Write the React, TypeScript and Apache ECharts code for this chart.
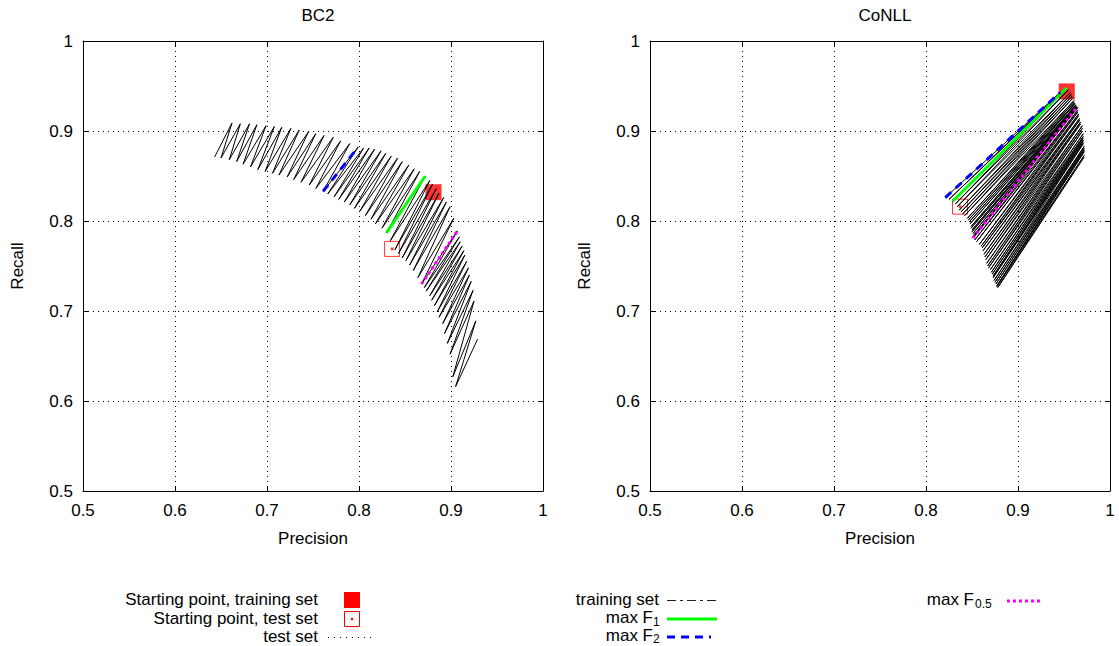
import React, { useEffect, useRef } from "react";
import * as echarts from "echarts";

// ---------- Data (precision, recall) ----------
const panelTitles = ["BC2", "CoNLL"];

// BC2: test-set points (lower-left ends) and training-set points (upper-right ends)
const bc2Test: number[][] = [
  [0.643, 0.871], [0.650, 0.870], [0.659, 0.868], [0.667, 0.866], [0.674, 0.863],
  [0.682, 0.860], [0.690, 0.857], [0.698, 0.855], [0.706, 0.853], [0.713, 0.851],
  [0.722, 0.849], [0.729, 0.846], [0.737, 0.843], [0.746, 0.840], [0.753, 0.836],
  [0.761, 0.833], [0.766, 0.830], [0.773, 0.827], [0.778, 0.824], [0.784, 0.821],
  [0.790, 0.818], [0.795, 0.814], [0.801, 0.811], [0.807, 0.806], [0.813, 0.802],
  [0.818, 0.797], [0.825, 0.792], [0.830, 0.787], [0.834, 0.778], [0.839, 0.768],
  [0.843, 0.764], [0.847, 0.759], [0.851, 0.756], [0.855, 0.751], [0.859, 0.745],
  [0.864, 0.737], [0.868, 0.730], [0.871, 0.726], [0.873, 0.722], [0.877, 0.717],
  [0.879, 0.712], [0.882, 0.706], [0.885, 0.699], [0.887, 0.693], [0.891, 0.686],
  [0.893, 0.675], [0.896, 0.664], [0.899, 0.652], [0.902, 0.627], [0.905, 0.616],
];
const bc2Train: number[][] = [
  [0.662, 0.909], [0.671, 0.908], [0.681, 0.908], [0.689, 0.907], [0.699, 0.906],
  [0.708, 0.905], [0.716, 0.904], [0.726, 0.903], [0.735, 0.901], [0.745, 0.899],
  [0.753, 0.897], [0.762, 0.895], [0.772, 0.893], [0.780, 0.889], [0.790, 0.886],
  [0.799, 0.882], [0.805, 0.881], [0.811, 0.881], [0.817, 0.880], [0.824, 0.878],
  [0.829, 0.875], [0.835, 0.872], [0.842, 0.870], [0.847, 0.866], [0.854, 0.862],
  [0.860, 0.858], [0.866, 0.855], [0.872, 0.850], [0.877, 0.845], [0.880, 0.841],
  [0.884, 0.836], [0.887, 0.831], [0.892, 0.826], [0.895, 0.821], [0.899, 0.816],
  [0.903, 0.803], [0.907, 0.789], [0.909, 0.782], [0.910, 0.777], [0.912, 0.772],
  [0.914, 0.767], [0.915, 0.762], [0.917, 0.755], [0.919, 0.748], [0.920, 0.740],
  [0.922, 0.733], [0.924, 0.723], [0.925, 0.711], [0.927, 0.689], [0.929, 0.669],
];
const bc2MaxF1 = 27;
const bc2MaxF2 = 15;
const bc2MaxF05 = 36;
const bc2StartTrain = [0.881, 0.832];
const bc2StartTest = [0.836, 0.769];

// CoNLL
const conllTest: number[][] = [
  [0.821, 0.826], [0.825, 0.824], [0.829, 0.822], [0.832, 0.819], [0.834, 0.816],
  [0.836, 0.812], [0.838, 0.810], [0.840, 0.808], [0.842, 0.806], [0.845, 0.803],
  [0.846, 0.801], [0.847, 0.799], [0.848, 0.797], [0.849, 0.794], [0.849, 0.792],
  [0.850, 0.790], [0.850, 0.788], [0.851, 0.786], [0.851, 0.783], [0.851, 0.781],
  [0.853, 0.779], [0.855, 0.777], [0.858, 0.774], [0.860, 0.772], [0.861, 0.770],
  [0.862, 0.767], [0.863, 0.763], [0.864, 0.760], [0.865, 0.757], [0.866, 0.753],
  [0.867, 0.750], [0.868, 0.748], [0.870, 0.746], [0.871, 0.743], [0.872, 0.741],
  [0.873, 0.739], [0.873, 0.737], [0.874, 0.734], [0.875, 0.732], [0.876, 0.730],
  [0.877, 0.728], [0.877, 0.727], [0.878, 0.726],
];
const conllTrain: number[][] = [
  [0.946, 0.943], [0.950, 0.946], [0.953, 0.948], [0.955, 0.946], [0.957, 0.943],
  [0.958, 0.941], [0.959, 0.939], [0.960, 0.937], [0.961, 0.934], [0.961, 0.932],
  [0.962, 0.931], [0.962, 0.930], [0.963, 0.929], [0.963, 0.928], [0.963, 0.927],
  [0.963, 0.926], [0.964, 0.927], [0.965, 0.926], [0.964, 0.925], [0.964, 0.926],
  [0.965, 0.923], [0.965, 0.921], [0.966, 0.919], [0.966, 0.917], [0.967, 0.914],
  [0.967, 0.912], [0.968, 0.910], [0.968, 0.908], [0.970, 0.906], [0.970, 0.903],
  [0.970, 0.900], [0.971, 0.897], [0.971, 0.894], [0.971, 0.892], [0.971, 0.890],
  [0.971, 0.888], [0.971, 0.886], [0.972, 0.883], [0.972, 0.881], [0.972, 0.879],
  [0.972, 0.877], [0.972, 0.873], [0.972, 0.871],
];
const conllMaxF1 = 2;
const conllMaxF2 = 0;
const conllMaxF05 = 19;
const conllStartTrain = [0.953, 0.944];
const conllStartTest = [0.837, 0.816];

// ---------- Styles ----------
const FONT = "'Liberation Sans', Arial, sans-serif";
const FS = 17;
const GREEN = "#00ff00";
const BLUE = "#0000ff";
const MAGENTA = "#ff00ff";
const RED = "#ff0000";

function zigzag(test: number[][], train: number[][]) {
  const out: number[][] = [];
  test.forEach((t, i) => {
    out.push(t);
    out.push(train[i]);
  });
  return out;
}

function panelSeries(
  idx: number,
  test: number[][],
  train: number[][],
  f1: number,
  f2: number,
  f05: number,
  startTrain: number[],
  startTest: number[]
): any[] {
  const base = { xAxisIndex: idx * 2, yAxisIndex: idx * 2 };
  const seg = (i: number) => [test[i], train[i]];
  return [
    {
      ...base,
      type: "scatter",
      z: 1,
      symbol: "rect",
      symbolSize: 16,
      itemStyle: { color: RED },
      data: [startTrain],
    },
    {
      ...base,
      type: "scatter",
      z: 1,
      symbol: "rect",
      symbolSize: 15,
      itemStyle: { color: "rgba(0,0,0,0)", borderColor: RED, borderWidth: 1 },
      data: [startTest],
    },
    {
      ...base,
      type: "scatter",
      z: 1,
      symbol: "circle",
      symbolSize: 3,
      itemStyle: { color: RED },
      data: [startTest],
    },
    {
      ...base,
      type: "line",
      z: 2,
      showSymbol: false,
      symbol: "none",
      lineStyle: { color: "#000", width: 1 },
      data: zigzag(test, train),
    },
    {
      ...base,
      type: "line",
      z: 3,
      symbol: "none",
      lineStyle: { color: GREEN, width: 3 },
      data: seg(f1),
    },
    {
      ...base,
      type: "line",
      z: 3,
      symbol: "none",
      lineStyle: { color: BLUE, width: 3, type: [8, 6] },
      data: seg(f2),
    },
    {
      ...base,
      type: "line",
      z: 3,
      symbol: "none",
      lineStyle: { color: MAGENTA, width: 3, type: [3, 3] },
      data: seg(f05),
    },
  ];
}

function axesFor(gridIndex: number) {
  const common = {
    gridIndex,
    type: "value",
    min: 0.5,
    max: 1,
    interval: 0.1,
  };
  const fmt = (v: number) => String(Math.round(v * 10) / 10);
  const xMain = {
    ...common,
    position: "bottom",
    name: "Precision",
    nameLocation: "middle",
    nameGap: 39,
    nameTextStyle: { color: "#000", fontSize: FS, fontFamily: FONT },
    axisLine: { show: true, lineStyle: { color: "#000", width: 1 } },
    axisTick: { show: true, inside: true, length: 5, lineStyle: { color: "#000" } },
    axisLabel: { color: "#000", fontSize: FS, fontFamily: FONT, margin: 11, formatter: fmt },
    splitLine: { show: true, lineStyle: { color: "#000", type: [1, 4], width: 1 } },
  };
  const xMirror = {
    ...common,
    position: "top",
    axisLine: { show: true, lineStyle: { color: "#000", width: 1 } },
    axisTick: { show: true, inside: true, length: 5, lineStyle: { color: "#000" } },
    axisLabel: { show: false },
    splitLine: { show: false },
  };
  const yMain = {
    ...common,
    position: "left",
    name: "Recall",
    nameLocation: "middle",
    nameGap: 57,
    nameRotate: 90,
    nameTextStyle: { color: "#000", fontSize: FS, fontFamily: FONT },
    axisLine: { show: true, lineStyle: { color: "#000", width: 1 } },
    axisTick: { show: true, inside: true, length: 5, lineStyle: { color: "#000" } },
    axisLabel: { color: "#000", fontSize: FS, fontFamily: FONT, margin: 10, formatter: fmt },
    splitLine: { show: true, lineStyle: { color: "#000", type: [1, 4], width: 1 } },
  };
  const yMirror = {
    ...common,
    position: "right",
    axisLine: { show: true, lineStyle: { color: "#000", width: 1 } },
    axisTick: { show: true, inside: true, length: 5, lineStyle: { color: "#000" } },
    axisLabel: { show: false },
    splitLine: { show: false },
  };
  return { x: [xMain, xMirror], y: [yMain, yMirror] };
}

function legendGraphics(): any[] {
  const txt = (text: string, x: number, y: number, align: string, size = FS) => ({
    type: "text",
    x,
    y,
    style: {
      text,
      fill: "#000",
      font: `${size}px ${FONT}`,
      align,
      verticalAlign: "middle",
    },
  });
  const ln = (x1: number, y: number, x2: number, stroke: string, lineWidth: number, lineDash?: number[]) => ({
    type: "line",
    shape: { x1, y1: y, x2, y2: y },
    style: { stroke, lineWidth, lineDash },
  });
  return [
    txt("Starting point, training set", 318, 599, "right"),
    { type: "rect", shape: { x: 344, y: 592, width: 16, height: 16 }, style: { fill: RED } },
    txt("Starting point, test set", 318, 618, "right"),
    {
      type: "rect",
      shape: { x: 344.5, y: 611.5, width: 15, height: 15 },
      style: { fill: "none", stroke: RED, lineWidth: 1 },
    },
    { type: "circle", shape: { cx: 352, cy: 619, r: 1.3 }, style: { fill: RED } },
    txt("test set", 318, 636, "right"),
    ln(328, 637.5, 375, "#000", 1, [1, 5]),

    txt("training set", 659, 599, "right"),
    ln(667, 600.5, 717, "#222", 1, [9, 4, 3, 4]),
    txt("max F", 653, 617, "right"),
    txt("1", 653, 622, "left", 12),
    ln(667, 619, 717, GREEN, 3),
    txt("max F", 653, 635, "right"),
    txt("2", 653, 639, "left", 12),
    ln(667, 637, 711, BLUE, 3, [8, 6]),

    txt("max F", 974, 599, "right"),
    txt("0.5", 975, 604, "left", 12),
    ln(1007, 601, 1043, MAGENTA, 3, [3, 3]),
  ];
}

export default function App() {
  const ref = useRef<HTMLDivElement>(null);

  useEffect(() => {
    if (!ref.current) return;
    const chart = echarts.init(ref.current, undefined, { renderer: "svg" });
    const a0 = axesFor(0);
    const a1 = axesFor(1);

    const titleStyle = { color: "#000", fontSize: FS, fontWeight: "normal", fontFamily: FONT };
    const option: any = {
      animation: false,
      backgroundColor: "#fff",
      title: [
        { text: panelTitles[0], left: 313, top: 2, textAlign: "center", textStyle: titleStyle },
        { text: panelTitles[1], left: 880, top: 2, textAlign: "center", textStyle: titleStyle },
      ],
      grid: [
        { left: 83, top: 41, width: 460, height: 450, show: false },
        { left: 650, top: 41, width: 460, height: 450, show: false },
      ],
      xAxis: [...a0.x, ...a1.x],
      yAxis: [...a0.y, ...a1.y],
      series: [
        ...panelSeries(0, bc2Test, bc2Train, bc2MaxF1, bc2MaxF2, bc2MaxF05, bc2StartTrain, bc2StartTest),
        ...panelSeries(1, conllTest, conllTrain, conllMaxF1, conllMaxF2, conllMaxF05, conllStartTrain, conllStartTest),
      ],
      graphic: legendGraphics(),
    };
    chart.setOption(option);
    return () => chart.dispose();
  }, []);

  return (
    <div
      ref={ref}
      style={{ position: "fixed", left: 0, top: 0, width: 1119, height: 646, background: "#fff" }}
    />
  );
}
